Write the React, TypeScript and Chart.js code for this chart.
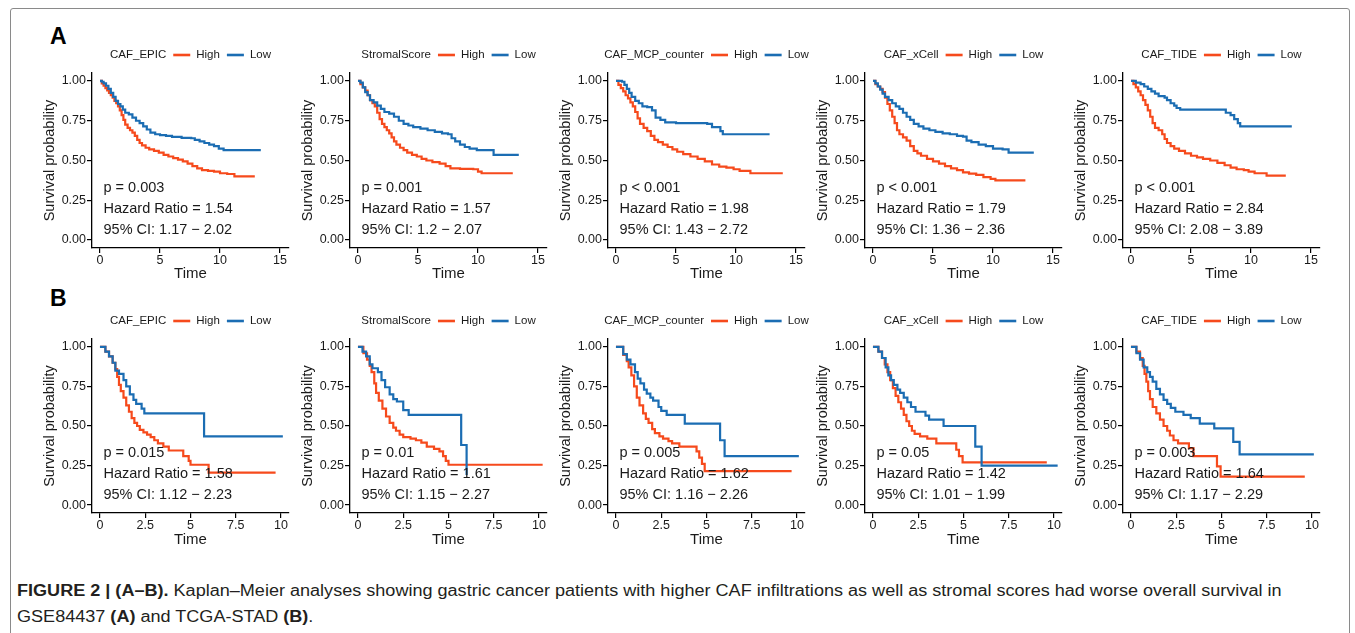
import React, { useEffect, useRef } from "react";
import { Chart, registerables } from "chart.js";

Chart.register(...registerables);

const FONT = "'Liberation Sans', Arial, Helvetica, sans-serif";
Chart.defaults.font.family = FONT;

const RED = "#F64A1C";
const BLUE = "#1B6DB3";
const INK = "#1a1a1a";

// ---------- tick labels ----------
const yTickValues = [0, 0.25, 0.5, 0.75, 1];
const topXTicks = [0, 5, 10, 15];
const bottomXTicks = [0, 2.5, 5, 7.5, 10];

// ---------- Row A (GSE84437): [time, survival] ----------
const epicA_high = [[0,1],[0.15,0.985],[0.3,0.97],[0.45,0.955],[0.6,0.94],[0.75,0.925],[0.9,0.91],[1.05,0.895],[1.2,0.875],[1.35,0.86],[1.5,0.84],[1.65,0.815],[1.8,0.785],[1.95,0.755],[2.1,0.725],[2.3,0.705],[2.5,0.69],[2.7,0.675],[2.9,0.655],[3.1,0.63],[3.3,0.61],[3.5,0.595],[3.8,0.58],[4.1,0.57],[4.5,0.56],[4.9,0.55],[5.3,0.535],[5.7,0.525],[6.1,0.515],[6.5,0.505],[6.9,0.495],[7.3,0.48],[7.7,0.465],[8.1,0.45],[8.5,0.44],[9.0,0.435],[9.5,0.43],[10.0,0.42],[10.6,0.415],[11.2,0.40],[12.9,0.40]];
const epicA_low = [[0,1],[0.15,0.995],[0.3,0.985],[0.5,0.97],[0.7,0.95],[0.9,0.925],[1.1,0.9],[1.3,0.875],[1.5,0.855],[1.7,0.84],[1.9,0.82],[2.1,0.8],[2.4,0.79],[2.7,0.77],[3.0,0.75],[3.3,0.735],[3.6,0.715],[3.9,0.695],[4.2,0.675],[4.6,0.665],[5.0,0.66],[5.5,0.655],[6.0,0.648],[6.8,0.642],[7.6,0.64],[7.9,0.63],[8.3,0.62],[8.7,0.61],[9.1,0.6],[9.5,0.59],[9.9,0.575],[10.3,0.565],[13.4,0.565]];

const stromalA_high = [[0,1],[0.2,0.98],[0.4,0.96],[0.6,0.94],[0.8,0.91],[1.0,0.88],[1.2,0.86],[1.4,0.84],[1.6,0.8],[1.8,0.76],[2.0,0.73],[2.2,0.71],[2.4,0.69],[2.6,0.67],[2.8,0.645],[3.0,0.62],[3.2,0.6],[3.5,0.58],[3.8,0.565],[4.1,0.55],[4.5,0.535],[4.9,0.525],[5.3,0.51],[5.7,0.5],[6.2,0.49],[6.8,0.48],[7.3,0.465],[7.7,0.45],[8.5,0.447],[9.6,0.445],[10.0,0.43],[10.3,0.42],[12.9,0.42]];
const stromalA_low = [[0,1],[0.2,0.99],[0.4,0.96],[0.6,0.93],[0.8,0.91],[1.0,0.88],[1.3,0.865],[1.6,0.845],[1.9,0.825],[2.2,0.805],[2.6,0.795],[3.0,0.775],[3.4,0.75],[3.8,0.73],[4.2,0.72],[4.6,0.71],[5.2,0.7],[5.8,0.69],[6.4,0.68],[7.0,0.67],[7.5,0.665],[7.8,0.64],[8.1,0.62],[8.5,0.6],[8.9,0.585],[9.3,0.575],[9.9,0.565],[11.3,0.535],[13.4,0.535]];

const mcpA_high = [[0,1],[0.2,0.975],[0.4,0.955],[0.6,0.935],[0.8,0.91],[1.0,0.89],[1.2,0.865],[1.4,0.84],[1.6,0.805],[1.8,0.765],[2.0,0.73],[2.3,0.705],[2.6,0.685],[2.9,0.655],[3.2,0.63],[3.5,0.615],[3.9,0.6],[4.3,0.585],[4.7,0.57],[5.1,0.555],[5.6,0.54],[6.2,0.525],[6.8,0.51],[7.4,0.495],[8.0,0.475],[8.6,0.462],[9.2,0.455],[9.8,0.445],[10.3,0.435],[11.2,0.42],[13.9,0.42]];
const mcpA_low = [[0,1],[0.5,0.995],[0.7,0.975],[0.9,0.95],[1.1,0.925],[1.3,0.9],[1.6,0.875],[1.9,0.86],[2.2,0.84],[2.6,0.835],[3.0,0.815],[3.3,0.77],[3.7,0.755],[4.1,0.74],[5.0,0.735],[6.5,0.735],[7.6,0.73],[8.0,0.71],[8.7,0.685],[8.9,0.665],[12.8,0.665]];

const xcellA_high = [[0,1],[0.2,0.98],[0.4,0.965],[0.6,0.95],[0.8,0.93],[1.0,0.895],[1.2,0.855],[1.4,0.815],[1.6,0.775],[1.8,0.735],[2.0,0.69],[2.2,0.665],[2.5,0.645],[2.8,0.625],[3.1,0.59],[3.4,0.56],[3.7,0.545],[4.0,0.53],[4.5,0.51],[5.0,0.495],[5.5,0.48],[6.0,0.465],[6.5,0.45],[7.0,0.44],[7.5,0.425],[8.0,0.418],[8.6,0.41],[9.2,0.395],[9.8,0.385],[10.2,0.375],[12.7,0.375]];
const xcellA_low = [[0,1],[0.2,0.985],[0.4,0.965],[0.6,0.945],[0.8,0.92],[1.0,0.9],[1.3,0.88],[1.6,0.86],[1.9,0.84],[2.2,0.825],[2.5,0.8],[2.8,0.775],[3.1,0.755],[3.4,0.73],[3.8,0.715],[4.2,0.7],[4.7,0.69],[5.2,0.68],[5.8,0.67],[6.4,0.665],[7.0,0.655],[7.5,0.65],[7.8,0.625],[8.2,0.615],[8.8,0.6],[9.4,0.59],[10.0,0.575],[10.8,0.57],[11.3,0.55],[13.4,0.55]];

const tideA_high = [[0,1],[0.2,0.98],[0.4,0.96],[0.6,0.935],[0.8,0.91],[1.0,0.88],[1.2,0.85],[1.4,0.815],[1.6,0.775],[1.8,0.735],[2.0,0.705],[2.3,0.69],[2.6,0.665],[2.8,0.635],[3.0,0.61],[3.3,0.59],[3.6,0.575],[4.0,0.56],[4.5,0.545],[5.0,0.53],[5.5,0.52],[6.0,0.51],[6.6,0.5],[7.2,0.485],[7.8,0.47],[8.3,0.455],[8.8,0.445],[9.4,0.44],[9.8,0.43],[10.3,0.42],[11.3,0.405],[12.9,0.405]];
const tideA_low = [[0,1],[0.4,0.99],[0.8,0.98],[1.1,0.965],[1.4,0.95],[1.7,0.935],[2.0,0.92],[2.3,0.905],[2.8,0.895],[3.0,0.88],[3.3,0.86],[3.6,0.845],[3.8,0.83],[4.1,0.82],[7.7,0.82],[7.9,0.8],[8.3,0.785],[8.6,0.76],[8.9,0.735],[9.1,0.715],[13.4,0.715]];

// ---------- Row B (TCGA-STAD): [time, survival] ----------
const epicB_high = [[0,1],[0.3,0.97],[0.5,0.94],[0.7,0.9],[0.85,0.86],[0.95,0.81],[1.05,0.76],[1.15,0.72],[1.3,0.68],[1.45,0.63],[1.6,0.59],[1.75,0.55],[1.9,0.52],[2.05,0.5],[2.2,0.475],[2.4,0.46],[2.6,0.445],[2.8,0.43],[3.0,0.41],[3.2,0.39],[3.5,0.37],[3.8,0.345],[4.6,0.31],[4.9,0.28],[5.0,0.255],[6.0,0.205],[9.7,0.205]];
const epicB_low = [[0,1],[0.3,0.97],[0.5,0.94],[0.7,0.9],[0.85,0.85],[1.05,0.83],[1.3,0.79],[1.45,0.75],[1.65,0.7],[1.85,0.665],[2.0,0.64],[2.3,0.61],[2.45,0.58],[5.75,0.435],[10.1,0.435]];

const stromalB_high = [[0,1],[0.3,0.96],[0.5,0.92],[0.65,0.88],[0.75,0.84],[0.9,0.77],[1.0,0.71],[1.15,0.66],[1.35,0.61],[1.55,0.56],[1.75,0.52],[1.95,0.49],[2.1,0.47],[2.3,0.445],[2.5,0.43],[2.9,0.42],[3.2,0.41],[3.5,0.395],[3.8,0.37],[4.2,0.355],[4.5,0.34],[4.7,0.31],[4.85,0.28],[5.0,0.255],[10.2,0.255]];
const stromalB_low = [[0,1],[0.25,0.97],[0.45,0.94],[0.65,0.89],[0.8,0.865],[1.1,0.84],[1.3,0.79],[1.5,0.745],[1.75,0.7],[1.95,0.67],[2.15,0.655],[2.5,0.6],[2.8,0.57],[5.7,0.38],[6.0,0.19]];

const mcpB_high = [[0,1],[0.4,0.95],[0.6,0.91],[0.7,0.87],[0.85,0.82],[1.0,0.75],[1.15,0.68],[1.3,0.63],[1.5,0.58],[1.65,0.545],[1.8,0.52],[2.0,0.48],[2.15,0.455],[2.4,0.435],[2.6,0.42],[2.9,0.405],[3.1,0.39],[3.5,0.37],[4.45,0.34],[4.6,0.3],[4.75,0.26],[4.9,0.215],[9.7,0.215]];
const mcpB_low = [[0,1],[0.4,0.955],[0.6,0.92],[0.8,0.89],[1.05,0.84],[1.2,0.8],[1.35,0.77],[1.55,0.73],[1.7,0.705],[1.9,0.68],[2.05,0.66],[2.35,0.62],[2.5,0.595],[2.8,0.57],[3.8,0.515],[5.75,0.41],[6.0,0.31],[10.1,0.31]];

const xcellB_high = [[0,1],[0.3,0.97],[0.5,0.93],[0.65,0.89],[0.8,0.84],[0.95,0.79],[1.1,0.74],[1.25,0.69],[1.4,0.65],[1.55,0.61],[1.7,0.57],[1.85,0.53],[2.0,0.5],[2.15,0.47],[2.3,0.45],[2.6,0.435],[3.0,0.42],[3.5,0.39],[4.6,0.35],[4.75,0.31],[4.95,0.27],[9.6,0.27]];
const xcellB_low = [[0,1],[0.3,0.97],[0.5,0.93],[0.7,0.87],[0.85,0.82],[1.0,0.79],[1.15,0.76],[1.35,0.73],[1.5,0.71],[1.7,0.68],[1.9,0.65],[2.1,0.62],[2.35,0.59],[2.9,0.565],[3.1,0.54],[3.9,0.5],[5.65,0.37],[6.0,0.25],[10.2,0.25]];

const tideB_high = [[0,1],[0.3,0.97],[0.5,0.93],[0.65,0.88],[0.75,0.83],[0.85,0.78],[0.95,0.72],[1.05,0.67],[1.2,0.62],[1.4,0.58],[1.6,0.54],[1.8,0.5],[2.0,0.47],[2.15,0.44],[2.35,0.41],[2.6,0.39],[3.2,0.36],[3.45,0.31],[4.75,0.245],[4.95,0.18],[9.6,0.18]];
const tideB_low = [[0,1],[0.3,0.96],[0.5,0.92],[0.7,0.87],[0.9,0.84],[1.05,0.81],[1.2,0.78],[1.4,0.735],[1.6,0.7],[1.8,0.665],[2.0,0.64],[2.2,0.615],[2.45,0.59],[2.9,0.57],[3.3,0.55],[3.8,0.515],[4.6,0.485],[5.65,0.4],[6.0,0.32],[10.1,0.32]];

// ---------- panel labels ----------
const groupNames = ["CAF_EPIC", "StromalScore", "CAF_MCP_counter", "CAF_xCell", "CAF_TIDE"];
const pTextsA = ["p = 0.003", "p = 0.001", "p < 0.001", "p < 0.001", "p < 0.001"];
const hrTextsA = ["Hazard Ratio = 1.54", "Hazard Ratio = 1.57", "Hazard Ratio = 1.98", "Hazard Ratio = 1.79", "Hazard Ratio = 2.84"];
const ciTextsA = ["95% CI: 1.17 \u2212 2.02", "95% CI: 1.2 \u2212 2.07", "95% CI: 1.43 \u2212 2.72", "95% CI: 1.36 \u2212 2.36", "95% CI: 2.08 \u2212 3.89"];
const pTextsB = ["p = 0.015", "p = 0.01", "p = 0.005", "p = 0.05", "p = 0.003"];
const hrTextsB = ["Hazard Ratio = 1.58", "Hazard Ratio = 1.61", "Hazard Ratio = 1.62", "Hazard Ratio = 1.42", "Hazard Ratio = 1.64"];
const ciTextsB = ["95% CI: 1.12 \u2212 2.23", "95% CI: 1.15 \u2212 2.27", "95% CI: 1.16 \u2212 2.26", "95% CI: 1.01 \u2212 1.99", "95% CI: 1.17 \u2212 2.29"];

const highA = [epicA_high, stromalA_high, mcpA_high, xcellA_high, tideA_high];
const lowA = [epicA_low, stromalA_low, mcpA_low, xcellA_low, tideA_low];
const highB = [epicB_high, stromalB_high, mcpB_high, xcellB_high, tideB_high];
const lowB = [epicB_low, stromalB_low, mcpB_low, xcellB_low, tideB_low];

const panelLefts = [20, 278, 536, 793, 1051];

const kmTextPlugin = {
  id: "kmText",
  afterDatasetsDraw(chart: any, _args: any, opts: any) {
    const { ctx, chartArea, scales } = chart;
    ctx.save();
    // annotations
    const x0 = scales.x.getPixelForValue(0) + 3.5;
    ctx.font = `14.5px ${FONT}`;
    ctx.fillStyle = INK;
    ctx.textAlign = "left";
    ctx.textBaseline = "middle";
    ctx.fillText(opts.p, x0, scales.y.getPixelForValue(0.33));
    ctx.fillText(opts.hr, x0, scales.y.getPixelForValue(0.198));
    ctx.fillText(opts.ci, x0, scales.y.getPixelForValue(0.064));
    // legend
    ctx.font = `11.5px ${FONT}`;
    const wT = ctx.measureText(opts.group).width;
    const wH = ctx.measureText("High").width;
    const wL = ctx.measureText("Low").width;
    const seg = 17;
    const total = wT + 7 + seg + 6 + wH + 7 + seg + 6 + wL;
    let x = (chartArea.left + chartArea.right) / 2 - total / 2;
    const y = chartArea.top - 18;
    ctx.fillText(opts.group, x, y);
    x += wT + 7;
    ctx.lineWidth = 2.6;
    ctx.strokeStyle = RED;
    ctx.beginPath();
    ctx.moveTo(x, y);
    ctx.lineTo(x + seg, y);
    ctx.stroke();
    x += seg + 6;
    ctx.fillText("High", x, y);
    x += wH + 7;
    ctx.strokeStyle = BLUE;
    ctx.beginPath();
    ctx.moveTo(x, y);
    ctx.lineTo(x + seg, y);
    ctx.stroke();
    x += seg + 6;
    ctx.fillText("Low", x, y);
    ctx.restore();
  },
};

type PanelProps = {
  left: number;
  top: number;
  group: string;
  high: number[][];
  low: number[][];
  p: string;
  hr: string;
  ci: string;
  xMin: number;
  xMax: number;
  xTicks: number[];
  xHeight: number;
};

function KMPanel(props: PanelProps) {
  const ref = useRef<HTMLCanvasElement>(null);
  useEffect(() => {
    const toPts = (arr: number[][]) => arr.map(([t, s]) => ({ x: t, y: s }));
    const chart = new Chart(ref.current as HTMLCanvasElement, {
      type: "line",
      data: {
        datasets: [
          {
            label: "Low",
            data: toPts(props.low),
            borderColor: BLUE,
            borderWidth: 2.2,
            pointRadius: 0,
            stepped: true,
            fill: false,
          },
          {
            label: "High",
            data: toPts(props.high),
            borderColor: RED,
            borderWidth: 2.2,
            pointRadius: 0,
            stepped: true,
            fill: false,
          },
        ],
      },
      options: {
        animation: false,
        responsive: false,
        layout: { padding: { left: 0, right: 6, top: 33, bottom: 0 } },
        plugins: {
          legend: { display: false },
          tooltip: { enabled: false },
          kmText: { group: props.group, p: props.p, hr: props.hr, ci: props.ci },
        } as any,
        scales: {
          x: {
            type: "linear",
            min: props.xMin,
            max: props.xMax,
            afterBuildTicks: (s: any) => {
              s.ticks = props.xTicks.map((v) => ({ value: v }));
            },
            afterFit: (s: any) => {
              s.height = props.xHeight;
            },
            ticks: {
              autoSkip: false,
              maxRotation: 0,
              padding: 0,
              color: INK,
              font: { size: 12.5 },
              callback: (v: any) => String(v),
            },
            grid: { drawOnChartArea: false, drawTicks: true, tickLength: 5, color: "#000", lineWidth: 1.2 },
            border: { display: true, color: "#000", width: 1.3 },
            title: { display: true, text: "Time", color: INK, font: { size: 15 }, padding: { top: 0, bottom: 7.5 } },
          },
          y: {
            type: "linear",
            min: -0.05,
            max: 1.05,
            afterBuildTicks: (s: any) => {
              s.ticks = yTickValues.map((v) => ({ value: v }));
            },
            afterFit: (s: any) => {
              s.width = 72;
            },
            ticks: {
              autoSkip: false,
              padding: 1,
              color: INK,
              font: { size: 12.5 },
              callback: (v: any) => Number(v).toFixed(2),
            },
            grid: { drawOnChartArea: false, drawTicks: true, tickLength: 5, color: "#000", lineWidth: 1.2 },
            border: { display: true, color: "#000", width: 1.3 },
            title: {
              display: true,
              text: "Survival probability",
              color: INK,
              font: { size: 14.5 },
              padding: { top: 21.3, bottom: 0 },
            },
          },
        },
      },
      plugins: [kmTextPlugin],
    } as any);
    return () => chart.destroy();
  }, []);
  return (
    <canvas
      ref={ref}
      width={275}
      height={250}
      style={{ position: "absolute", left: props.left, top: props.top, width: 275, height: 250 }}
    />
  );
}

export default function App() {
  const capRef = useRef<HTMLDivElement>(null);
  const cap2Ref = useRef<HTMLDivElement>(null);
  useEffect(() => {
    const el = capRef.current;
    const el2 = cap2Ref.current;
    if (el && el2) {
      const w = el.scrollWidth;
      const k = 1264 / w;
      el.style.transform = `scaleX(${k})`;
      el2.style.transform = `scaleX(${k})`;
    }
  }, []);

  const capStyle: React.CSSProperties = {
    position: "absolute",
    left: 17,
    fontFamily: FONT,
    fontSize: 16,
    lineHeight: "26px",
    color: "#231f20",
    whiteSpace: "nowrap",
    transformOrigin: "left top",
  };

  return (
    <div style={{ position: "absolute", left: 0, top: 0, width: 1355, height: 633, background: "#fff", overflow: "hidden" }}>
      <div
        style={{
          position: "absolute",
          left: 10,
          top: 8,
          width: 1340,
          height: 660,
          border: "1px solid #8a8a8a",
          borderRadius: 3,
          boxSizing: "border-box",
        }}
      />
      <div style={{ position: "absolute", left: 50, top: 25, fontFamily: FONT, fontWeight: "bold", fontSize: 23, lineHeight: "23px", color: "#000" }}>A</div>
      <div style={{ position: "absolute", left: 50, top: 287, fontFamily: FONT, fontWeight: "bold", fontSize: 23, lineHeight: "23px", color: "#000" }}>B</div>

      {groupNames.map((g, i) => (
        <KMPanel
          key={"A" + i}
          left={panelLefts[i]}
          top={40}
          group={g}
          high={highA[i]}
          low={lowA[i]}
          p={pTextsA[i]}
          hr={hrTextsA[i]}
          ci={ciTextsA[i]}
          xMin={-0.667}
          xMax={15.75}
          xTicks={topXTicks}
          xHeight={42}
        />
      ))}
      {groupNames.map((g, i) => (
        <KMPanel
          key={"B" + i}
          left={panelLefts[i]}
          top={306}
          group={g}
          high={highB[i]}
          low={lowB[i]}
          p={pTextsB[i]}
          hr={hrTextsB[i]}
          ci={ciTextsB[i]}
          xMin={-0.44}
          xMax={10.44}
          xTicks={bottomXTicks}
          xHeight={43}
        />
      ))}

      <div ref={capRef} style={{ ...capStyle, top: 578 }}>
        <b>FIGURE 2 | (A–B).</b> Kaplan–Meier analyses showing gastric cancer patients with higher CAF infiltrations as well as stromal scores had worse overall survival in
      </div>
      <div ref={cap2Ref} style={{ ...capStyle, top: 604 }}>
        GSE84437 <b>(A)</b> and TCGA-STAD <b>(B)</b>.
      </div>
    </div>
  );
}
